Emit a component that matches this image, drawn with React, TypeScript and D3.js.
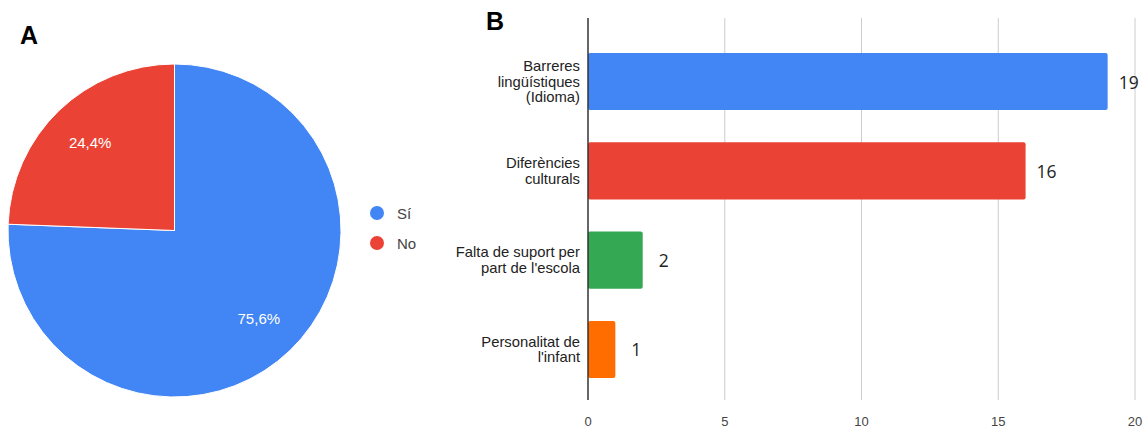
import React from "react";
import * as d3 from "d3";

const pieLabels = ["Sí", "No"];
const pieValues = [75.6, 24.4];
const pieColors = ["#4285F4", "#EA4335"];

const barCategories = [
  ["Barreres", "lingüístiques", "(Idioma)"],
  ["Diferències", "culturals"],
  ["Falta de suport per", "part de l'escola"],
  ["Personalitat de", "l'infant"],
];
const barValues = [19, 16, 2, 1];
const barColors = ["#4285F4", "#EA4335", "#34A853", "#FF6D01"];
const xTicks = [0, 5, 10, 15, 20];

const FONT = "Arial, 'Liberation Sans', Helvetica, sans-serif";

export default function App() {
  const W = 1146, H = 427;
  // Pie
  const cx = 174.5, cy = 230.5, r = 166.5;
  const pie = d3.pie<number>().sort(null).value((d) => d)(pieValues);
  const arc = d3.arc<d3.PieArcDatum<number>>().innerRadius(0).outerRadius(r);
  const labelArc = d3.arc<d3.PieArcDatum<number>>().innerRadius(r * 0.73).outerRadius(r * 0.73);

  // Bars
  const x = d3.scaleLinear().domain([0, 20]).range([588, 1135]);
  const idx = barValues.map((_, i) => String(i));
  const y = d3.scaleBand().domain(idx).range([26, 405]).paddingInner(0.36).paddingOuter(0.302);

  return (
    <svg width={W} height={H} style={{ display: "block", position: "absolute", left: 0, top: 0 }} fontFamily={FONT}>
      <rect width={W} height={H} fill="#fff" />
      <text x={20} y={44} fontSize={25} fontWeight="bold" fill="#000">A</text>
      <text x={486} y={30} fontSize={25} fontWeight="bold" fill="#000">B</text>

      <g transform={`translate(${cx},${cy})`}>
        {pie.map((d, i) => (
          <path key={i} d={arc(d) || ""} fill={pieColors[i]} stroke="#fff" strokeWidth={1} />
        ))}
        {pie.map((d, i) => {
          const [lx, ly] = labelArc.centroid(d);
          return (
            <text key={i} x={lx} y={ly} fill="#fff" fontSize={15} textAnchor="middle" dominantBaseline="central">
              {pieValues[i].toFixed(1).replace(".", ",") + "%"}
            </text>
          );
        })}
      </g>

      {pieLabels.map((l, i) => (
        <g key={l} transform={`translate(377,${213 + i * 30})`}>
          <circle r={7} fill={pieColors[i]} />
          <text x={20} y={0} fontSize={15} fill="#444" dominantBaseline="central">{l}</text>
        </g>
      ))}

      {xTicks.slice(1).map((t) => (
        <line key={t} x1={x(t)} x2={x(t)} y1={18} y2={400} stroke="#ccc" strokeWidth={1} />
      ))}
      {barValues.map((v, i) => {
        const yy = y(String(i))!;
        const bw = y.bandwidth();
        return (
          <g key={i}>
            <rect x={x(0)} y={yy} width={x(v) - x(0)} height={bw} fill={barColors[i]} rx={2} />
            <text x={x(v) + 21} y={yy + bw / 2} fontSize={17.5} fill="#222" textAnchor="middle" dominantBaseline="central" fontFamily="'Open Sans', 'Noto Sans', sans-serif">
              {v}
            </text>
            {barCategories[i].map((line, j) => (
              <text key={j} x={580} y={yy + bw / 2 + (j - (barCategories[i].length - 1) / 2) * 15.5} fontSize={14.8} fill="#222" textAnchor="end" dominantBaseline="central">
                {line}
              </text>
            ))}
          </g>
        );
      })}
      <line x1={x(0)} x2={x(0)} y1={18} y2={400} stroke="#333" strokeWidth={1.5} />
      {xTicks.map((t) => (
        <text key={t} x={x(t)} y={426} fontSize={13} fill="#444" textAnchor="middle">{t}</text>
      ))}
    </svg>
  );
}
